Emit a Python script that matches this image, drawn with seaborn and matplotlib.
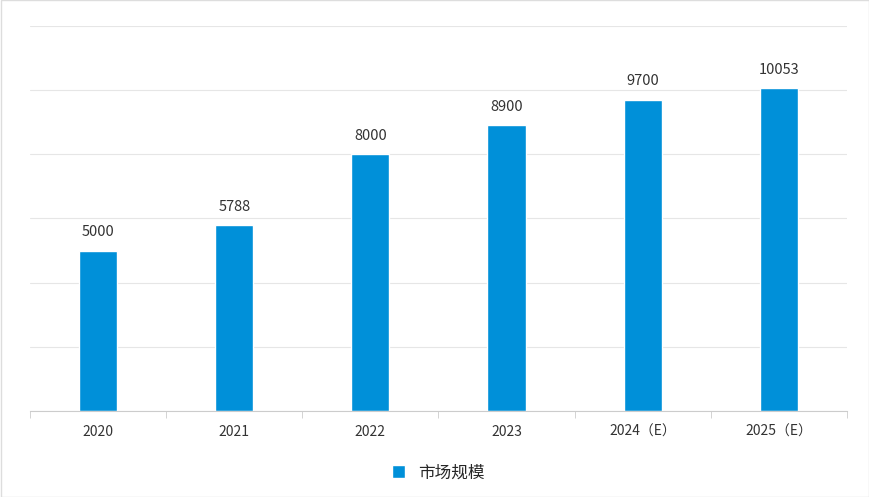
import matplotlib
matplotlib.use('agg')
import matplotlib.pyplot as plt
import seaborn as sns
import pandas as pd
import numpy as np

years = ['2020', '2021', '2022', '2023', '2024（E）', '2025（E）']
market_size = [5000, 5788, 8000, 8900, 9700, 10053]
legend_label = '市场规模'

sns.set_style('white')
plt.rcParams['font.family'] = ['Noto Sans CJK SC', 'DejaVu Sans']

df = pd.DataFrame({'year': years, 'value': market_size})
fig = plt.figure(figsize=(8.7, 4.97), dpi=100)
ax = fig.add_axes([0.0345, 0.173, 0.939, 0.775])
sns.barplot(data=df, x='year', y='value', color='#0090d9', width=0.28,
            saturation=1, ax=ax, label=legend_label)
ax.set_ylim(0, 12000)
ax.set_yticks(np.arange(0, 12001, 2000))
ax.set_yticklabels([])
ax.tick_params(axis='y', length=0)
ax.grid(axis='y', color='#e6e6e6', linewidth=0.8)
ax.set_axisbelow(True)
for s in ['top', 'right', 'left']:
    ax.spines[s].set_visible(False)
ax.spines['bottom'].set_color('#cccccc')
ax.set_xlim(-0.5, len(years) - 0.5)
ax.set_xticks(np.arange(len(years)))
ax.set_xticks(np.arange(-0.5, len(years)), minor=True)
ax.tick_params(axis='x', which='major', length=0, labelsize=10, colors='#333333', pad=10)
ax.tick_params(axis='x', which='minor', length=5, color='#cccccc', bottom=True)
ax.set_xlabel('')
ax.set_ylabel('')
for i, v in enumerate(market_size):
    ax.text(i, v + 350, str(v), ha='center', va='bottom', fontsize=10.5, color='#333333')

ax.legend(loc='upper center', bbox_to_anchor=(0.5, -0.1), frameon=False,
          fontsize=12, handlelength=0.8, handleheight=0.8)
fig.patches.append(plt.Rectangle((0.001, 0.001), 0.998, 0.998, transform=fig.transFigure,
                                 fill=False, edgecolor='#dddddd', linewidth=1))
fig.savefig('out.png', dpi=100)
